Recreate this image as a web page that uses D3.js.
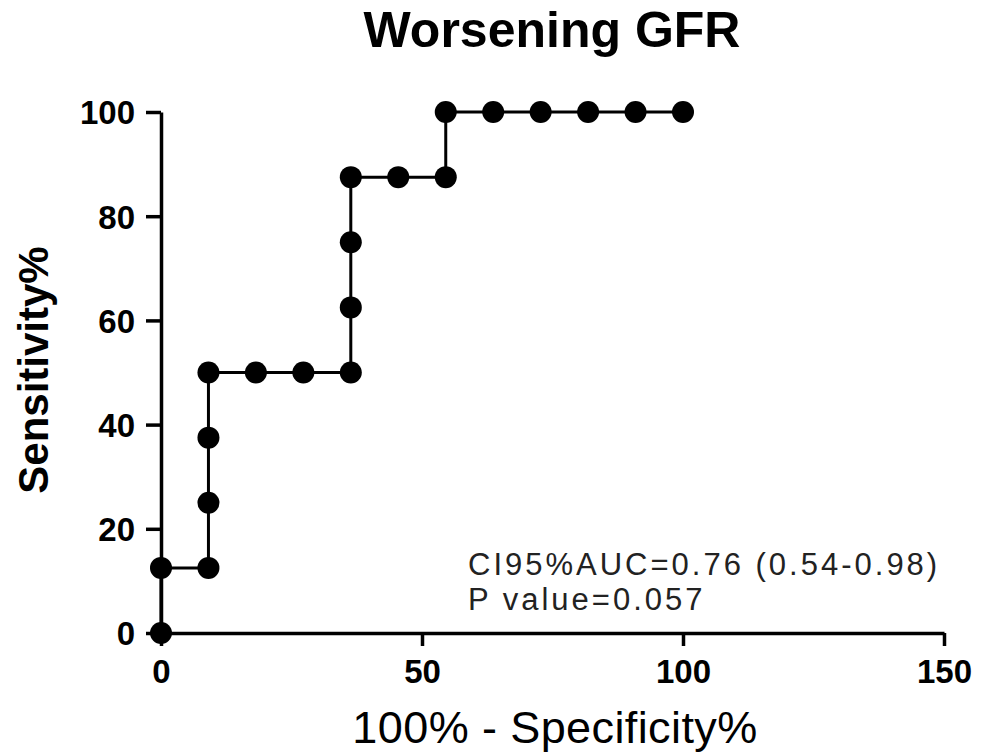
<!DOCTYPE html>
<html>
<head>
<meta charset="utf-8">
<script src="https://cdn.jsdelivr.net/npm/d3@7"></script>
<style>
  body { margin: 0; background: #fff; }
  svg text { font-family: "Liberation Sans", Arial, sans-serif; }
  .axis path, .axis line { stroke: #000; stroke-width: 3.5; }
  .axis text { font-size: 33px; font-weight: bold; fill: #000; }
</style>
</head>
<body>
<svg id="chart" width="988" height="753"></svg>
<script>
// ROC points: 100% - specificity (x) and sensitivity (y)
const fpr = [0, 0, 9.09, 9.09, 9.09, 9.09, 18.18, 27.27, 36.36, 36.36, 36.36, 36.36,
	45.45, 54.55, 54.55, 63.64, 72.73, 81.82, 90.91, 100];
const sens = [0, 12.5, 12.5, 25, 37.5, 50, 50, 50, 50, 62.5, 75, 87.5,
	87.5, 87.5, 100, 100, 100, 100, 100, 100];
const xTicks = [0, 50, 100, 150];
const yTicks = [0, 20, 40, 60, 80, 100];
const notes = ["CI95%AUC=0.76 (0.54-0.98)", "P value=0.057"];

const points = fpr.map((d, i) => ({ x: d, y: sens[i] }));

const svg = d3.select("#chart");

const x = d3.scaleLinear().domain([0, 150]).range([161, 944]);
const y = d3.scaleLinear().domain([0, 100]).range([633, 112]);

// axes
svg.append("g")
	.attr("class", "axis")
	.attr("transform", "translate(0,633)")
	.call(d3.axisBottom(x).tickValues(xTicks).tickSize(13).tickSizeOuter(0).tickPadding(6))
	.call((g) => g.selectAll("text").attr("dy", "0.95em"));

svg.append("g")
	.attr("class", "axis")
	.attr("transform", "translate(161,0)")
	.call(d3.axisLeft(y).tickValues(yTicks).tickSize(15).tickSizeOuter(0).tickPadding(11))
	.call((g) => g.selectAll("text").attr("dy", "0.36em"));

// curve
const line = d3.line().x((d) => x(d.x)).y((d) => y(d.y));

svg.append("path")
	.datum(points)
	.attr("d", line)
	.attr("fill", "none")
	.attr("stroke", "#000")
	.attr("stroke-width", 3);

svg.selectAll("circle")
	.data(points)
	.enter()
	.append("circle")
	.attr("cx", (d) => x(d.x))
	.attr("cy", (d) => y(d.y))
	.attr("r", 11)
	.attr("fill", "#000");

// titles
svg.append("text")
	.attr("x", 552)
	.attr("y", 47)
	.attr("text-anchor", "middle")
	.style("font-size", "50px")
	.style("font-weight", "bold")
	.text("Worsening GFR");

svg.append("text")
	.attr("x", 555)
	.attr("y", 743)
	.attr("text-anchor", "middle")
	.style("font-size", "45px")
	.style("letter-spacing", "0.4px")
	.text("100% - Specificity%");

svg.append("text")
	.attr("transform", "translate(48,370) rotate(-90)")
	.attr("text-anchor", "middle")
	.style("font-size", "42px")
	.style("font-weight", "bold")
	.text("Sensitivity%");

// annotation
svg.selectAll(".note")
	.data(notes)
	.enter()
	.append("text")
	.attr("class", "note")
	.attr("x", 468)
	.attr("y", (d, i) => 575 + i * 35)
	.style("font-size", "31px")
	.style("letter-spacing", "3px")
	.style("fill", "#222")
	.text((d) => d);
</script>
</body>
</html>
